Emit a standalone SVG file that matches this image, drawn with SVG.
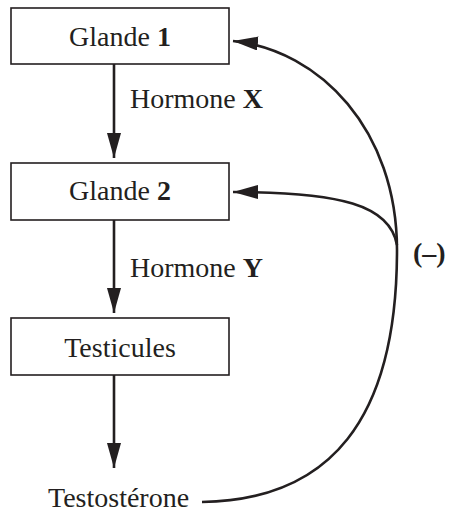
<svg xmlns="http://www.w3.org/2000/svg" width="454" height="514" viewBox="0 0 454 514">
<style>
.box{fill:#fff;stroke:#231f20;stroke-width:1.6}
.t{font-family:'Liberation Serif','Tinos','Times New Roman','DejaVu Serif',serif;font-size:28px;fill:#231f20}
.c{text-anchor:middle}
.b{font-weight:bold}
.ln{fill:none;stroke:#231f20;stroke-width:2.6}
</style>
<defs>
<marker id="ah" markerUnits="userSpaceOnUse" markerWidth="26" markerHeight="16" refX="25" refY="7" orient="auto">
<path d="M0,0 L25,7 L0,14 z" fill="#231f20"/>
</marker>
</defs>
<g id="glande1"><rect class="box" x="11" y="8" width="218" height="56"/><text class="t c" x="120" y="46">Glande <tspan class="b">1</tspan></text></g>
<g id="glande2"><rect class="box" x="11" y="163" width="218" height="57"/><text class="t c" x="120" y="200">Glande <tspan class="b">2</tspan></text></g>
<g id="testicules"><rect class="box" x="11" y="318" width="218" height="57"/><text class="t c" x="120" y="357">Testicules</text></g>
<g id="testosterone"><text class="t" x="48" y="507">Testostérone</text></g>
<g id="connectors">
<line class="ln" x1="114" y1="64" x2="114" y2="158" marker-end="url(#ah)"/>
<line class="ln" x1="114" y1="220" x2="114" y2="313" marker-end="url(#ah)"/>
<line class="ln" x1="114" y1="375" x2="114" y2="468" marker-end="url(#ah)"/>
<path class="ln" d="M202 502 C330 500 397 420 397 250 C397 130 320 50 233 41" marker-end="url(#ah)"/>
<path class="ln" d="M397 245 C390 205 340 192 233 192" marker-end="url(#ah)"/>
<text class="t" x="130" y="108">Hormone <tspan class="b">X</tspan></text>
<text class="t" x="130" y="277">Hormone <tspan class="b">Y</tspan></text>
<text class="t b" x="413" y="262">(–)</text>
</g>
</svg>
